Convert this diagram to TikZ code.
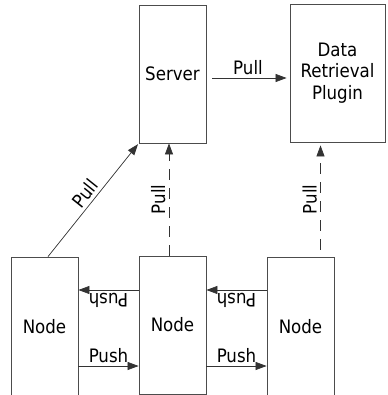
\documentclass[tikz,border=0pt]{standalone}
\usepackage{fontspec}
\setmainfont{DejaVu Sans Condensed}
\usepackage{tikz}
\usetikzlibrary{arrows.meta}
\tikzset{>={Triangle[length=11pt,width=8pt]}}
\tikzset{%
    box/.style={draw=black!70, line width=0.8pt, inner sep=0pt, align=center,
        minimum width=67pt, minimum height=138pt},
    link/.style={->, draw=black!80, line width=0.7pt},
    dlink/.style={link, dash pattern=on 11pt off 8pt}
}

\begin{document}
\begin{tikzpicture}[x=1pt,y=-1pt,font=\fontsize{18.5}{21.5}\selectfont]
\useasboundingbox (0,0) rectangle (387,395);

\node[box] (server) at (172.5,74) {Server};
\node[box, minimum width=95pt] (plugin) at (337.5,73) {Data\\Retrieval\\Plugin};

\node[box, minimum height=140pt] (nodeA) at (44.5,327) {Node};
\node[box] (nodeB) at (172.5,325) {Node};
\node[box, minimum height=140pt] (nodeC) at (300.5,327) {Node};

\draw[link, shorten <=6pt, shorten >=3pt] ([yshift=-4pt]server.east) -- ([yshift=-4pt]server.east -| plugin.west) node[midway,above] {Pull};

\draw[link, shorten >=1pt] ([xshift=3.5pt]nodeA.north) -- (server.south west) node[midway,above,sloped] {Pull};
\draw[dlink] ([xshift=-3.5pt]nodeB.north) -- ([xshift=-3.5pt]server.south) node[midway,above,sloped] {Pull};
\draw[dlink, shorten <=7pt, shorten >=3pt] ([xshift=20pt]nodeC.north) -- ([xshift=20pt]nodeC.north |- plugin.south) node[midway,above,sloped] {Pull};

\draw[link] ([yshift=35pt]nodeB.west) -- ([yshift=35pt]nodeB.west -| nodeA.east) node[midway,above,sloped,allow upside down] {Push};
\draw[link] ([yshift=35pt]nodeB.west -| nodeC.west) -- ([yshift=35pt]nodeB.east) node[midway,above,sloped,allow upside down] {Push};
\draw[link] ([yshift=-41pt]nodeB.west -| nodeA.east) -- ([yshift=-41pt]nodeB.west) node[midway,above] {Push};
\draw[link] ([yshift=-41pt]nodeB.east) -- ([yshift=-41pt]nodeB.east -| nodeC.west) node[midway,above] {Push};
\end{tikzpicture}
\end{document}
